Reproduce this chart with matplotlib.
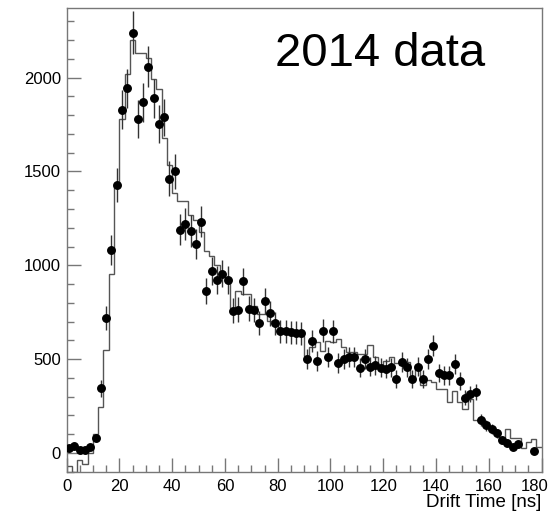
"""Drift time distribution, 2014 data vs simulation."""

import matplotlib
matplotlib.use('Agg')
import matplotlib.pyplot as plt
import matplotlib.transforms as mtransforms
from matplotlib.ticker import MultipleLocator
import numpy as np

plt.rcParams['font.family'] = ['Liberation Sans', 'DejaVu Sans']

# bin edges of the simulated histogram (2 ns bins)
bin_edges = np.arange(0, 182, 2)

# simulated histogram contents, one per bin
mc_counts = [
    -70, -100, -40, -60, -2, 100, 243, 549, 956, 1430,
    1779, 2021, 2203, 2132, 2132, 2106, 1995, 1942, 1677, 1533,
    1383, 1342, 1342, 1268, 1242, 1180, 1074, 1048, 1004, 960,
    933, 774, 862, 845, 845, 783, 742, 742, 704, 686,
    668, 651, 651, 651, 624, 518, 562, 589, 545, 598,
    589, 607, 562, 536, 536, 527, 527, 575, 510, 466,
    490, 510, 480, 466, 483, 400, 470, 360, 386, 377,
    342, 342, 271, 330, 271, 236, 289, 175, 175, 165,
    134, 104, 69, 128, 78, 78, 25, 60, 72, 30,
]

# measured points (bin centres)
data_x = [
    1, 3, 5, 7, 9, 11, 13, 15, 17, 19,
    21, 23, 25, 27, 29, 31, 33, 35, 37, 39,
    41, 43, 45, 47, 49, 51, 53, 55, 57, 59,
    61, 63, 65, 67, 69, 71, 73, 75, 77, 79,
    81, 83, 85, 87, 89, 91, 93, 95, 97, 99,
    101, 103, 105, 107, 109, 111, 113, 115, 117, 119,
    121, 123, 125, 127, 129, 131, 133, 135, 137, 139,
    141, 143, 145, 147, 149, 151, 153, 155, 157, 159,
    161, 163, 165, 167, 169, 171, 177,
]
data_y = [
    25, 37, 16, 16, 30, 78, 345, 721, 1081, 1427,
    1830, 1943, 2240, 1779, 1868, 2058, 1891, 1753, 1788, 1462,
    1501, 1189, 1220, 1183, 1116, 1233, 862, 968, 922, 956,
    922, 757, 763, 915, 769, 762, 691, 810, 743, 690,
    647, 647, 644, 640, 637, 499, 598, 492, 651, 510,
    647, 478, 499, 510, 510, 453, 499, 460, 466, 453,
    448, 457, 393, 485, 457, 393, 460, 395, 499, 571,
    425, 413, 413, 475, 383, 295, 312, 326, 175, 148,
    129, 104, 69, 55, 30, 48, 12,
]
data_err = [
    12, 15, 10, 10, 13, 21, 45, 64, 79, 91,
    103, 106, 114, 101, 104, 109, 104, 100, 101, 92,
    93, 83, 84, 83, 80, 84, 70, 75, 73, 74,
    73, 66, 66, 73, 67, 66, 63, 68, 65, 63,
    61, 61, 61, 61, 61, 54, 59, 53, 61, 54,
    61, 52, 54, 54, 54, 51, 54, 51, 52, 51,
    51, 51, 48, 53, 51, 48, 51, 48, 54, 57,
    49, 49, 49, 52, 47, 41, 42, 43, 32, 29,
    27, 24, 20, 18, 13, 17, 8,
]
x_ticks = [0, 20, 40, 60, 80, 100, 120, 140, 160, 180]
x_ticklabels = ['0', '20', '40', '60', '80', '100', '120', '140', '160', '180']

fig = plt.figure(figsize=(5.52, 5.15), dpi=100)
ax = fig.add_axes([0.1205, 0.0835, 0.8608, 0.9004])

frame_col = '#777777'

ax.stairs(mc_counts, bin_edges, baseline=None, color='#555555', lw=1.0, zorder=2)
ax.errorbar(data_x, data_y, yerr=data_err, fmt='o', color='black', ms=5.4,
            ecolor='#333333', elinewidth=1.0, capsize=0, zorder=3)

ax.set_xlim(0, 180)
ax.set_ylim(-102, 2370)

ax.set_xticks(x_ticks, x_ticklabels)
ax.xaxis.set_minor_locator(MultipleLocator(5))
ax.yaxis.set_major_locator(MultipleLocator(500))
ax.yaxis.set_minor_locator(MultipleLocator(100))
ax.tick_params(which='both', direction='in', top=False, right=False,
               color=frame_col, labelsize=12, labelcolor='black')
ax.tick_params(which='major', length=10, width=1)
ax.tick_params(which='minor', length=5, width=1)
ax.tick_params(axis='x', pad=5)
ax.tick_params(axis='y', pad=4)
for sp in ax.spines.values():
    sp.set_color(frame_col)
    sp.set_linewidth(1)

# nudge the "180" label left so it stays inside the figure
for lab in ax.get_xticklabels():
    if lab.get_text() == '180':
        lab.set_transform(lab.get_transform() +
                          mtransforms.ScaledTranslation(-5 / 72, 0, fig.dpi_scale_trans))

ax.set_xlabel('Drift Time [ns]', fontsize=13.5, loc='right', labelpad=0)
ax.text(0.4388, 0.8756, '2014 data', transform=ax.transAxes,
        fontsize=34, va='baseline', ha='left')

fig.savefig('out.png', dpi=100)
